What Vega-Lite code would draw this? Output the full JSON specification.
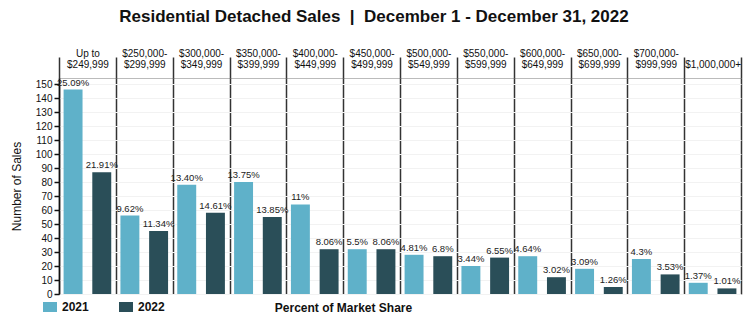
{
  "$schema": "https://vega.github.io/schema/vega-lite/v6.json",
  "width": 682,
  "height": 216,
  "autosize": {"type": "none"},
  "padding": {"left": 59, "top": 78, "right": 9, "bottom": 31},
  "background": "white",
  "title": {
    "text": "Residential Detached Sales\u00a0\u00a0|\u00a0\u00a0December 1 - December 31, 2022",
    "font": "Liberation Sans",
    "fontSize": 17,
    "fontWeight": "bold",
    "color": "#111111",
    "anchor": "middle",
    "dx": -26,
    "offset": 22
  },
  "config": {
    "view": {"stroke": "#bbbbbb", "strokeWidth": 1}
  },
  "data": {
    "values": [
      {"priceRange": "Up to $249,999", "year": "2021", "sales": 146, "pct": "25.09%"},
      {"priceRange": "Up to $249,999", "year": "2022", "sales": 87, "pct": "21.91%"},
      {"priceRange": "$250,000-$299,999", "year": "2021", "sales": 56, "pct": "9.62%"},
      {"priceRange": "$250,000-$299,999", "year": "2022", "sales": 45, "pct": "11.34%"},
      {"priceRange": "$300,000-$349,999", "year": "2021", "sales": 78, "pct": "13.40%"},
      {"priceRange": "$300,000-$349,999", "year": "2022", "sales": 58, "pct": "14.61%"},
      {"priceRange": "$350,000-$399,999", "year": "2021", "sales": 80, "pct": "13.75%"},
      {"priceRange": "$350,000-$399,999", "year": "2022", "sales": 55, "pct": "13.85%"},
      {"priceRange": "$400,000-$449,999", "year": "2021", "sales": 64, "pct": "11%"},
      {"priceRange": "$400,000-$449,999", "year": "2022", "sales": 32, "pct": "8.06%"},
      {"priceRange": "$450,000-$499,999", "year": "2021", "sales": 32, "pct": "5.5%"},
      {"priceRange": "$450,000-$499,999", "year": "2022", "sales": 32, "pct": "8.06%"},
      {"priceRange": "$500,000-$549,999", "year": "2021", "sales": 28, "pct": "4.81%"},
      {"priceRange": "$500,000-$549,999", "year": "2022", "sales": 27, "pct": "6.8%"},
      {"priceRange": "$550,000-$599,999", "year": "2021", "sales": 20, "pct": "3.44%"},
      {"priceRange": "$550,000-$599,999", "year": "2022", "sales": 26, "pct": "6.55%"},
      {"priceRange": "$600,000-$649,999", "year": "2021", "sales": 27, "pct": "4.64%"},
      {"priceRange": "$600,000-$649,999", "year": "2022", "sales": 12, "pct": "3.02%"},
      {"priceRange": "$650,000-$699,999", "year": "2021", "sales": 18, "pct": "3.09%"},
      {"priceRange": "$650,000-$699,999", "year": "2022", "sales": 5, "pct": "1.26%"},
      {"priceRange": "$700,000-$999,999", "year": "2021", "sales": 25, "pct": "4.3%"},
      {"priceRange": "$700,000-$999,999", "year": "2022", "sales": 14, "pct": "3.53%"},
      {"priceRange": "$1,000,000+", "year": "2021", "sales": 8, "pct": "1.37%"},
      {"priceRange": "$1,000,000+", "year": "2022", "sales": 4, "pct": "1.01%"}
    ]
  },
  "encoding": {
    "x": {
      "field": "priceRange",
      "type": "nominal",
      "sort": null,
      "scale": {"paddingInner": 0, "paddingOuter": 0},
      "axis": {
        "orient": "top",
        "title": "Percent of Market Share",
        "titleFont": "Liberation Sans",
        "titleFontSize": 12,
        "titleFontWeight": "bold",
        "titleColor": "#111111",
        "titleX": 284,
        "titleY": 229,
        "titleAlign": "center",
        "titleBaseline": "middle",
        "tickBand": "extent",
        "tickSize": 21,
        "tickColor": "#333333",
        "tickWidth": 1.5,
        "grid": true,
        "gridColor": "#333333",
        "gridWidth": 1.5,
        "domain": false,
        "labelAngle": 0,
        "labelFont": "Liberation Sans",
        "labelFontSize": 10,
        "labelColor": "#111111",
        "labelLineHeight": 11.5,
        "labelPadding": -1,
        "labelOverlap": false,
        "labelBound": false,
        "labelExpr": "isValid(datum.value) ? ((indexof(datum.value, '-') < 0 && indexof(datum.value, 'Up') < 0) ? ['', datum.value] : split(replace(replace(datum.value, 'Up to ', 'Up to|'), '-$', '-|$'), '|')) : ''"
      }
    },
    "y": {
      "field": "sales",
      "type": "quantitative",
      "scale": {"domain": [0, 154.3], "nice": false},
      "axis": {
        "title": "Number of Sales",
        "titleFont": "Liberation Sans",
        "titleFontSize": 12,
        "titleFontWeight": "normal",
        "titleColor": "#111111",
        "titlePadding": 12,
        "values": [0, 10, 20, 30, 40, 50, 60, 70, 80, 90, 100, 110, 120, 130, 140, 150],
        "labelFont": "Liberation Sans",
        "labelFontSize": 10,
        "labelColor": "#111111",
        "labelPadding": 2,
        "tickColor": "#111111",
        "tickSize": 5,
        "tickWidth": 1.5,
        "domainColor": "#111111",
        "domainWidth": 1.5,
        "gridColor": "#f2f2f2",
        "gridWidth": 1
      }
    }
  },
  "layer": [
    {
      "mark": {"type": "bar"},
      "encoding": {
        "xOffset": {
          "field": "year",
          "type": "nominal",
          "scale": {"paddingInner": 0.34, "paddingOuter": 0.16}
        },
        "color": {
          "field": "year",
          "type": "nominal",
          "scale": {"domain": ["2021", "2022"], "range": ["#5fb1c9", "#2a4e58"]},
          "legend": {
            "orient": "none",
            "legendX": -16,
            "legendY": 222,
            "direction": "horizontal",
            "title": null,
            "symbolType": "M-1,-0.7143H1V0.7143H-1Z",
            "symbolSize": 196,
            "symbolStrokeWidth": 0,
            "symbolOpacity": 1,
            "labelFont": "Liberation Sans",
            "labelFontSize": 12,
            "labelFontWeight": "bold",
            "labelColor": "#111111",
            "labelOffset": 5,
            "columnPadding": 30
          }
        }
      }
    },
    {
      "mark": {
        "type": "text",
        "baseline": "bottom",
        "dy": -2,
        "font": "Liberation Sans",
        "fontSize": 9.5,
        "color": "#222222"
      },
      "encoding": {
        "xOffset": {
          "field": "year",
          "type": "nominal"
        },
        "text": {"field": "pct", "type": "nominal"}
      }
    }
  ]
}
